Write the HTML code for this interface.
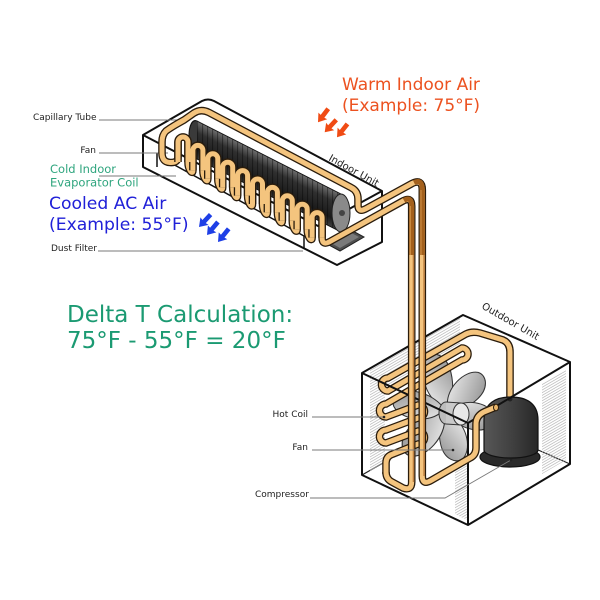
<!DOCTYPE html>
<html><head><meta charset="utf-8"><style>
html,body{margin:0;padding:0;background:#fff;}
svg{display:block;}
text{font-family:"DejaVu Sans","Liberation Sans",sans-serif;}
</style></head><body>
<svg width="600" height="600" viewBox="0 0 600 600" xmlns="http://www.w3.org/2000/svg">
<defs>
 <linearGradient id="cyl" x1="0" y1="0" x2="0" y2="1">
  <stop offset="0" stop-color="#6e6e6e"/><stop offset="0.3" stop-color="#303030"/><stop offset="0.75" stop-color="#1a1a1a"/><stop offset="1" stop-color="#404040"/>
 </linearGradient>
 <linearGradient id="comp" x1="0" y1="0" x2="1" y2="0">
  <stop offset="0" stop-color="#575757"/><stop offset="0.5" stop-color="#414141"/><stop offset="1" stop-color="#272727"/>
 </linearGradient>
 <linearGradient id="blade" x1="0" y1="0" x2="1" y2="1">
  <stop offset="0" stop-color="#f0f0f0"/><stop offset="1" stop-color="#8f8f8f"/>
 </linearGradient>
 <pattern id="ribs" width="5" height="40" patternUnits="userSpaceOnUse">
  <line x1="0.5" y1="0" x2="0.5" y2="40" stroke="#000" stroke-opacity="0.45" stroke-width="0.9"/>
 </pattern>
 <pattern id="hatch" width="12" height="2.7" patternUnits="userSpaceOnUse" patternTransform="skewY(-30)">
  <line x1="0" y1="1" x2="12" y2="1" stroke="#b5b5b5" stroke-width="0.8"/>
 </pattern>
 <path id="bl" d="M 5,-4 C 14,-17 38,-20 47,-9 C 52,-1 45,10 31,11 C 18,12 9,7 5,4 Z"/>
 <polygon id="arr" points="0,0 -8,-5.5 -7.5,-2.3 -17,-2.3 -17,2.3 -7.5,2.3 -8,5.5"/>
 <path id="mainpipe" d="M 496,407 L 485,411.5 Q 476,415.5 476,424 L 476,448 Q 476,455 470,458 L 431,480.5 Q 422.3,485.5 422.3,476 L 422.3,190 Q 422.3,178.5 412,183.5 L 366,208.7 Q 358,213 358,205 L 358,199 Q 358,191 351,187.5 L 209,112.5 Q 201,108.5 194,113 L 184,120 Q 173,126 166,131 Q 162,135 162,142 L 162,153 Q 162,162 170,162.5 Q 178,163 178,157 L 178,142 A 5 5 0 0 1 188,142 L 188,162 C 188,170 192.9,175.4 192.9,170.4 L 192.9,150.4 A 5 5 0 0 1 202.9,150.4 L 202.9,170.4 C 202.9,178.4 207.8,183.8 207.8,178.8 L 207.8,158.8 A 5 5 0 0 1 217.8,158.8 L 217.8,178.8 C 217.8,186.8 222.7,192.2 222.7,187.2 L 222.7,167.2 A 5 5 0 0 1 232.7,167.2 L 232.7,187.2 C 232.7,195.2 237.6,200.6 237.6,195.6 L 237.6,175.6 A 5 5 0 0 1 247.6,175.6 L 247.6,195.6 C 247.6,203.6 252.5,209 252.5,204 L 252.5,184 A 5 5 0 0 1 262.5,184 L 262.5,204 C 262.5,212 267.4,217.4 267.4,212.4 L 267.4,192.4 A 5 5 0 0 1 277.4,192.4 L 277.4,212.4 C 277.4,220.4 282.3,225.8 282.3,220.8 L 282.3,200.8 A 5 5 0 0 1 292.3,200.8 L 292.3,220.8 C 292.3,228.8 297.2,234.2 297.2,229.2 L 297.2,209.2 A 5 5 0 0 1 307.2,209.2 L 307.2,229.2 C 307.2,237.2 312.1,242.6 312.1,237.6 L 312.1,217.6 A 5 5 0 0 1 322.1,217.6 L 322.1,237.6 Q 322.1,246 330,241.5 L 402,201.5 Q 411.7,196 411.7,206 L 411.7,482 Q 411.7,491 403,488 L 392,482 Q 386,479 386,472"/>
 <path id="uu" d="M 178,162 L 178,142 A 5 5 0 0 1 188,142 L 188,162 M 192.9,170.4 L 192.9,150.4 A 5 5 0 0 1 202.9,150.4 L 202.9,170.4 M 207.8,178.8 L 207.8,158.8 A 5 5 0 0 1 217.8,158.8 L 217.8,178.8 M 222.7,187.2 L 222.7,167.2 A 5 5 0 0 1 232.7,167.2 L 232.7,187.2 M 237.6,195.6 L 237.6,175.6 A 5 5 0 0 1 247.6,175.6 L 247.6,195.6 M 252.5,204 L 252.5,184 A 5 5 0 0 1 262.5,184 L 262.5,204 M 267.4,212.4 L 267.4,192.4 A 5 5 0 0 1 277.4,192.4 L 277.4,212.4 M 282.3,220.8 L 282.3,200.8 A 5 5 0 0 1 292.3,200.8 L 292.3,220.8 M 297.2,229.2 L 297.2,209.2 A 5 5 0 0 1 307.2,209.2 L 307.2,229.2 M 312.1,237.6 L 312.1,217.6 A 5 5 0 0 1 322.1,217.6 L 322.1,237.6"/>
 <path id="coil" d="M 386,474 L 386,463 Q 386,456 393,454 L 418,444 A 6.5 6.5 0 0 0 418,431 L 386,443 A 6.5 6.5 0 0 1 386,430 L 418,418 A 6.5 6.5 0 0 0 418,405 L 386,417 A 6.5 6.5 0 0 1 386,404 L 462,360 A 6 6 0 0 0 462,348 L 388,391 A 6.5 6.5 0 0 1 388,378 L 466,334 Q 472,331 480,333 L 503,340 Q 510,343 510,352 L 510,399"/>
</defs>

<rect width="600" height="600" fill="#fff"/>

<!-- ===== Indoor unit ===== -->
<g fill="none" stroke="#111" stroke-width="2" stroke-linejoin="round">
 <path d="M 143,135 L 202,101 Q 208,98 214,101 L 382,191 L 382,242 L 337,265 L 143,167 Z"/>
 <path d="M 143,135 L 318,226 L 382,191"/>
 <path d="M 157,153 L 157,167" stroke-width="1.5"/>
 <path d="M 160,157 L 304,236 L 304,249" stroke-width="1.5"/>
</g>

<!-- leader lines indoor -->
<g stroke="#7a7a7a" stroke-width="0.9">
 <line x1="99" y1="120" x2="184" y2="120"/>
 <line x1="99" y1="153" x2="168" y2="153"/>
 <line x1="99" y1="176" x2="176" y2="176"/>
 <line x1="98" y1="251" x2="303" y2="251"/>
</g>

<!-- fan cylinder -->
<g transform="matrix(1,0.507,0,1,197,140)">
 <ellipse cx="0" cy="0" rx="8" ry="19" fill="#3a3a3a" stroke="#111" stroke-width="1"/>
 <rect x="0" y="-19" width="144" height="38" fill="url(#cyl)"/>
 <rect x="0" y="-19" width="144" height="38" fill="url(#ribs)"/>
 <line x1="0" y1="-19" x2="144" y2="-19" stroke="#111" stroke-width="1"/>
 <line x1="0" y1="19" x2="144" y2="19" stroke="#111" stroke-width="1"/>
</g>
<ellipse cx="341" cy="213" rx="9" ry="19" fill="#8a8a8a" stroke="#222" stroke-width="1"/>
<circle cx="342" cy="213" r="3" fill="#444"/>

<!-- filter -->
<polygon points="327,244 351,230 364,237 340,251" fill="#4e4e4e" stroke="#222" stroke-width="1"/>
<polygon points="332,243.5 351,232.7 359,237 340,248" fill="#7a7a7a"/>

<!-- ===== Outdoor unit ===== -->
<path d="M 362,475 L 463,417 L 570,464" fill="none" stroke="#222" stroke-width="1.2"/>
<g fill="url(#hatch)">
 <polygon points="370,369 385,360 385,462 370,471"/>
 <polygon points="385,361 460,318 460,352 385,395"/>
 <polygon points="542,383 566,369 566,460 542,474"/>
 <polygon points="455,445 467,449 467,520 455,514"/>
</g>

<!-- fan -->
<g transform="translate(446,411)" fill="url(#blade)" stroke="#333" stroke-width="1">
 <use href="#bl" transform="rotate(-100) scale(1.2,1.05)"/>
 <use href="#bl" transform="rotate(-40) scale(1.05,1)"/>
 <use href="#bl" transform="rotate(15) scale(1,1)"/>
 <use href="#bl" transform="rotate(80) scale(1.05,1)"/>
 <use href="#bl" transform="rotate(138) scale(1.2,1.1)"/>
 <use href="#bl" transform="rotate(195) scale(1.1,1)"/>
</g>
<ellipse cx="446" cy="413" rx="7" ry="11" fill="#bdbdbd" stroke="#333" stroke-width="1"/>
<polygon points="446,402 461,403 461,425 446,424" fill="#c9c9c9"/>
<line x1="446" y1="402" x2="461" y2="403" stroke="#333"/>
<line x1="446" y1="424" x2="461" y2="425" stroke="#333"/>
<ellipse cx="461" cy="414" rx="8" ry="11" fill="#e8e8e8" stroke="#333" stroke-width="1"/>

<!-- outdoor coil -->
<use href="#coil" fill="none" stroke="#2a1c0c" stroke-width="7.6"/>
<use href="#coil" fill="none" stroke="#f4c47e" stroke-width="5"/>

<!-- compressor -->
<ellipse cx="510" cy="457" rx="30" ry="10" fill="#2a2a2a" stroke="#111" stroke-width="1.2"/>
<path d="M 484,450 L 484,420 C 484,403 496,397 511,397 C 526,397 538,403 538,420 L 538,450 A 27 8 0 0 1 484,450 Z" fill="url(#comp)" stroke="#111" stroke-width="1.2"/>
<circle cx="510" cy="399" r="2.5" fill="#222"/>

<!-- outdoor box front lines -->
<path d="M 362,373 L 463,315 L 570,362 L 468,423 Z M 362,373 L 362,475 L 468,525 L 570,464 L 570,362 M 468,423 L 468,525" fill="none" stroke="#111" stroke-width="2" stroke-linejoin="round"/>

<!-- main refrigerant pipe -->
<use href="#mainpipe" fill="none" stroke="#2a1c0c" stroke-width="7.6"/>
<use href="#mainpipe" fill="none" stroke="#f4c47e" stroke-width="5"/>
<use href="#uu" fill="none" stroke="#2a1c0c" stroke-width="7.6"/>
<use href="#uu" fill="none" stroke="#f4c47e" stroke-width="5"/>
<g fill="none" stroke="#a3601c" stroke-width="5">
 <path d="M 414,182.5 Q 422.3,178.5 422.3,190 L 422.3,255"/>
 <path d="M 404,200.4 Q 411.7,196 411.7,206 L 411.7,255"/>
</g>
<g stroke="#c98a40" stroke-width="1.2">
 <line x1="421" y1="190" x2="421" y2="255"/>
 <line x1="410.4" y1="206" x2="410.4" y2="255"/>
</g>
<g stroke="#c08040" stroke-width="1.4">
 <line x1="424" y1="255" x2="424" y2="476"/>
 <line x1="413.4" y1="255" x2="413.4" y2="482"/>
</g>
<ellipse cx="496" cy="407.5" rx="2.5" ry="3.2" fill="#e9b56a" stroke="#2a1c0c" stroke-width="1"/>

<!-- outdoor leaders -->
<g stroke="#7a7a7a" stroke-width="0.9" fill="none">
 <line x1="312" y1="417" x2="384" y2="417"/>
 <line x1="312" y1="450" x2="452" y2="450"/>
 <polyline points="310,498 445,498 511,460"/>
</g>
<circle cx="384" cy="417" r="1.3" fill="#222"/>
<circle cx="453" cy="450" r="1.3" fill="#222"/>
<circle cx="511" cy="460" r="1.3" fill="#222"/>

<!-- arrows -->
<g fill="#f04b14">
 <use href="#arr" transform="translate(318,122.3) rotate(127)"/>
 <use href="#arr" transform="translate(324.7,132.3) rotate(133)"/>
 <use href="#arr" transform="translate(337,137.3) rotate(128)"/>
</g>
<g fill="#1e3fe6">
 <use href="#arr" transform="translate(199,227) rotate(133)"/>
 <use href="#arr" transform="translate(207,235) rotate(130)"/>
 <use href="#arr" transform="translate(218,242) rotate(129)"/>
</g>

<!-- texts -->
<text x="342" y="90" font-size="17" fill="#ec5220">Warm Indoor Air</text>
<text x="342" y="111" font-size="17" fill="#ec5220">(Example: 75°F)</text>
<text x="49" y="209" font-size="17.2" fill="#2020d8">Cooled AC Air</text>
<text x="49" y="230" font-size="17.2" fill="#2020d8">(Example: 55°F)</text>
<text x="50" y="173" font-size="11.5" fill="#2fa57e">Cold Indoor</text>
<text x="50" y="186.5" font-size="11.5" fill="#2fa57e">Evaporator Coil</text>
<text x="67" y="322" font-size="23" fill="#1b9a72">Delta T Calculation:</text>
<text x="67" y="348" font-size="23" fill="#1b9a72">75°F - 55°F = 20°F</text>

<g font-size="9" fill="#222">
 <text x="33" y="120">Capillary Tube</text>
 <text x="96" y="153" text-anchor="end">Fan</text>
 <text x="51" y="251">Dust Filter</text>
 <text x="308" y="417" text-anchor="end">Hot Coil</text>
 <text x="308" y="450" text-anchor="end">Fan</text>
 <text x="255" y="497">Compressor</text>
</g>
<text transform="translate(328,160) rotate(29)" font-size="10" fill="#222">Indoor Unit</text>
<text transform="translate(481,308) rotate(30)" font-size="10" fill="#222">Outdoor Unit</text>
</svg>
</body></html>
